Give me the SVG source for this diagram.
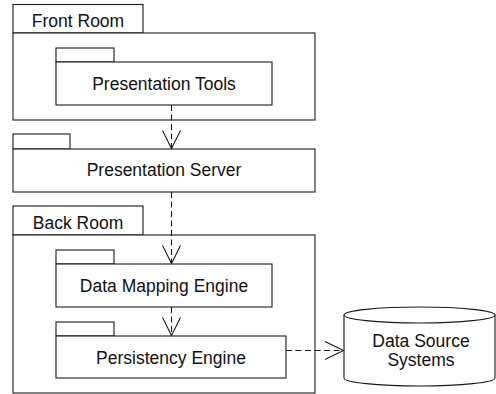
<svg xmlns="http://www.w3.org/2000/svg" width="496" height="394" viewBox="0 0 496 394">
  <style>
    .box { fill: #fff; stroke: #1a1a1a; stroke-width: 1.1; }
    .lbl { font-family: "Liberation Sans", Arial, sans-serif; font-size: 17.5px; fill: #111; text-anchor: middle; }
    .dep { fill: none; stroke: #1a1a1a; stroke-width: 1.1; stroke-dasharray: 6 3.5; }
    .head { fill: none; stroke: #1a1a1a; stroke-width: 1.1; }
  </style>
  <rect width="496" height="394" fill="#fff"/>

  <!-- Front Room package -->
  <g id="front-room">
    <rect class="box" x="13" y="4.5" width="130" height="28.5"/>
    <rect class="box" x="13" y="33" width="302" height="87"/>
    <text class="lbl" x="78" y="27">Front Room</text>
  </g>

  <g id="presentation-tools">
    <rect class="box" x="56" y="48" width="58" height="14"/>
    <rect class="box" x="56" y="62" width="216" height="43"/>
    <text class="lbl" x="164" y="90">Presentation Tools</text>
  </g>

  <g id="presentation-server">
    <rect class="box" x="13" y="134" width="57" height="15"/>
    <rect class="box" x="13" y="149" width="302" height="43"/>
    <text class="lbl" x="164" y="176">Presentation Server</text>
  </g>

  <!-- Back Room package -->
  <g id="back-room">
    <rect class="box" x="13" y="206" width="130" height="29"/>
    <rect class="box" x="13" y="235" width="302" height="158"/>
    <text class="lbl" x="78" y="229">Back Room</text>
  </g>

  <g id="data-mapping-engine">
    <rect class="box" x="56" y="250" width="58" height="14"/>
    <rect class="box" x="56" y="264" width="216" height="43"/>
    <text class="lbl" x="164" y="292">Data Mapping Engine</text>
  </g>

  <g id="persistency-engine">
    <rect class="box" x="56" y="322" width="58" height="14"/>
    <rect class="box" x="56" y="336" width="230" height="42"/>
    <text class="lbl" x="171" y="364">Persistency Engine</text>
  </g>

  <g id="data-source-systems">
    <path class="box" d="M344,315 V378 A75.5,8 0 0 0 495,378 V315"/>
    <ellipse class="box" cx="419.5" cy="315" rx="75.5" ry="8"/>
    <text class="lbl" x="421" y="347">Data Source</text>
    <text class="lbl" x="421" y="366">Systems</text>
  </g>

  <!-- dependency connectors -->
  <g id="connectors">
    <line class="dep" x1="171.5" y1="105" x2="171.5" y2="148"/>
    <polyline class="head" points="162.5,130.5 171.5,148.5 180.5,130.5"/>

    <line class="dep" x1="171.5" y1="192" x2="171.5" y2="263"/>
    <polyline class="head" points="162.5,245.5 171.5,263.5 180.5,245.5"/>

    <line class="dep" x1="171.5" y1="307" x2="171.5" y2="335"/>
    <polyline class="head" points="162.5,317.5 171.5,335.5 180.5,317.5"/>

    <line class="dep" x1="286" y1="350.5" x2="343" y2="350.5"/>
    <polyline class="head" points="325,341.5 343.5,350.5 325,359.5"/>
  </g>
</svg>
